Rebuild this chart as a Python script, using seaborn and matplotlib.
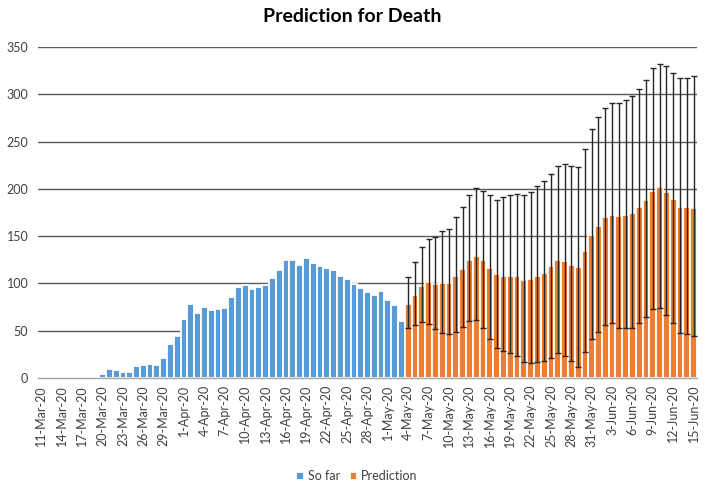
import pandas as pd
import matplotlib
matplotlib.use("Agg")
import matplotlib.pyplot as plt
import seaborn as sns

# daily deaths, 11-Mar-20 .. 3-May-20
so_far = [0, 0, 0, 0, 0, 0, 0, 0, 0,
          4, 10, 8, 6, 6, 13, 14, 15, 14, 21, 36, 44,
          62, 78, 69, 75, 72, 73, 74, 86, 96, 98, 94, 96, 98, 106, 114,
          125, 125, 120, 127, 122, 118, 116, 114, 108, 105, 99, 95, 91, 88, 92,
          83, 77, 60]

# prediction, 4-May-20 .. 15-Jun-20
prediction = [78, 88, 97, 101, 99, 100, 100, 108, 115, 125, 129, 125, 116, 110,
              108, 108, 108, 104, 105, 108, 111, 118, 125, 124, 120, 117, 134, 151,
              161, 170, 172, 171, 172, 174, 181, 188, 198, 202, 197, 189, 181, 181, 180]
pred_upper = [107, 123, 138, 147, 149, 155, 158, 170, 181, 194, 201, 198, 193, 188,
              191, 193, 195, 193, 197, 203, 208, 216, 224, 226, 224, 223, 242, 263,
              276, 286, 291, 291, 294, 298, 306, 315, 328, 332, 330, 323, 317, 317, 319]
pred_lower = [53, 56, 59, 57, 52, 48, 46, 49, 54, 60, 61, 53, 41, 32,
              29, 26, 23, 17, 16, 17, 18, 21, 26, 23, 18, 12, 27, 41,
              49, 56, 58, 53, 53, 53, 58, 64, 73, 74, 67, 58, 48, 47, 44]

dates = pd.date_range("2020-03-11", "2020-06-15").strftime("%-d-%b-%y").tolist()
series = ["So far"] * len(so_far) + ["Prediction"] * len(prediction)

df = pd.DataFrame({"date": dates, "deaths": so_far + prediction, "series": series})

sns.set_theme(style="white")
plt.rcParams["font.family"] = ["Lato", "DejaVu Sans"]

fig = plt.figure(figsize=(7.05, 4.82), dpi=100)
ax = fig.add_axes([38 / 705, 1 - 378 / 482, 659 / 705, 331 / 482])
ax.set_axisbelow(True)

sns.barplot(data=df, x="date", y="deaths", hue="series", dodge=False,
            palette={"So far": "#5B9BD5", "Prediction": "#ED7D31"}, saturation=1,
            width=1.0, edgecolor="white", linewidth=1.3, ax=ax,
            order=dates, hue_order=["So far", "Prediction"])

# error bars on the prediction part
pos = [dates.index(d) for d in dates[len(so_far):]]
yerr = [[p - lo for p, lo in zip(prediction, pred_lower)],
        [up - p for p, up in zip(prediction, pred_upper)]]
ax.errorbar(pos, prediction, yerr=yerr, fmt="none", ecolor="#262626",
            elinewidth=1.0, capsize=2, capthick=1.0, zorder=3)

ax.set_ylim(0, 350)
ax.set_xlim(-0.5, len(dates) - 0.5)
ax.set_yticks(range(0, 351, 50))
ax.yaxis.grid(True, color="#595959", linewidth=1.0)
ax.xaxis.grid(False)

ax.set_xticks(range(0, len(dates), 3))
ax.set_xticklabels(dates[::3], rotation=90)
ax.tick_params(axis="x", length=0, pad=5, labelsize=9, labelcolor="#404040")
ax.tick_params(axis="y", length=0, pad=7, labelsize=9, labelcolor="#404040")
ax.set_xlabel("")
ax.set_ylabel("")

for side in ["top", "right", "left"]:
    ax.spines[side].set_visible(False)
ax.spines["bottom"].set_color("#A6A6A6")
ax.spines["bottom"].set_linewidth(1.0)

handles, labels = ax.get_legend_handles_labels()
ax.get_legend().remove()
fig.legend(handles, labels, loc="center", bbox_to_anchor=(357 / 705, 1 - 476 / 482),
           ncol=2, frameon=False, fontsize=9, handlelength=0.6, handleheight=0.6,
           handletextpad=0.3, columnspacing=0.8, labelcolor="#404040")

fig.text(0.5, 1 - 16 / 482, "Prediction for Death", ha="center", va="center",
         fontsize=14, fontweight="bold", color="#000000")

fig.savefig("out.png", dpi=100)
